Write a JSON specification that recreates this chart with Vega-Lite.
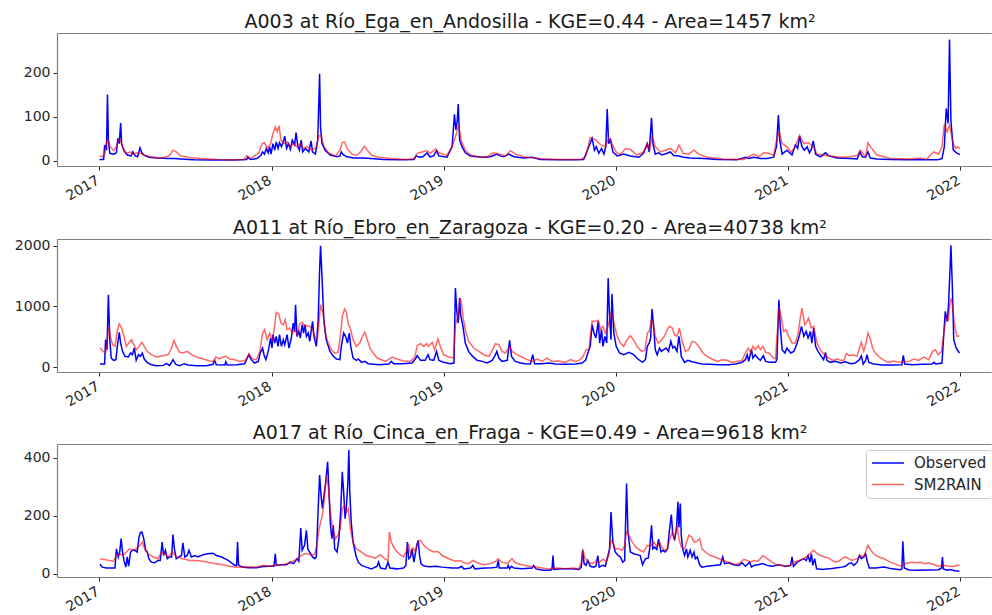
{
"$schema": "https://vega.github.io/schema/vega-lite/v6.json",
"background": "white",
"padding": {"left": 14, "top": 13, "right": 0, "bottom": 0},
"spacing": 15,
"config": {
  "font": "DejaVu Sans",
  "view": {"stroke": null},
  "axis": {"grid": false, "title": null, "labelFont": "DejaVu Sans", "labelFontSize": 14, "labelColor": "#262626", "tickColor": "#262626", "tickSize": 4, "labelPadding": 3, "domainColor": "#808080", "domainWidth": 1.2, "labelOverlap": false},
  "title": {"fontSize": 19, "fontWeight": "normal", "color": "#1a1a1a", "font": "DejaVu Sans", "offset": 1, "frame": "group", "anchor": "middle", "dx": 6},
  "line": {"strokeWidth": 1.5, "clip": true}
},
"resolve": {"scale": {"color": "independent", "x": "independent", "y": "independent"}, "legend": {"color": "independent"}},
"vconcat": [
{
  "title": "A003 at Río_Ega_en_Andosilla - KGE=0.44 - Area=1457 km²",
  "width": 934, "height": 133,
  "resolve": {"axis": {"x": "independent"}},
  "layer": [
    {"data": {"values": [
{"d":"2017-001","v":3},{"d":"2017-010","v":3},{"d":"2017-012","v":36},{"d":"2017-016","v":24},{"d":"2017-018","v":151},{"d":"2017-020","v":47},{"d":"2017-023","v":17},{"d":"2017-031","v":15},{"d":"2017-037","v":18},{"d":"2017-040","v":51},{"d":"2017-043","v":39},{"d":"2017-046","v":86},{"d":"2017-048","v":39},{"d":"2017-053","v":23},{"d":"2017-060","v":13},{"d":"2017-068","v":11},{"d":"2017-072","v":20},{"d":"2017-077","v":11},{"d":"2017-082","v":9},{"d":"2017-087","v":29},{"d":"2017-091","v":18},{"d":"2017-096","v":12},{"d":"2017-106","v":8},{"d":"2017-123","v":6},{"d":"2017-145","v":5},{"d":"2017-159","v":5},{"d":"2017-173","v":4},{"d":"2017-201","v":2},{"d":"2017-244","v":1.5},{"d":"2017-286","v":1.5},{"d":"2017-313","v":3},{"d":"2017-316","v":8},{"d":"2017-321","v":3},{"d":"2017-335","v":5},{"d":"2017-344","v":13},{"d":"2017-347","v":20},{"d":"2017-351","v":15},{"d":"2017-355","v":28},{"d":"2017-359","v":18},{"d":"2017-362","v":32},{"d":"2017-365","v":15},
{"d":"2018-004","v":39},{"d":"2018-008","v":24},{"d":"2018-011","v":43},{"d":"2018-015","v":28},{"d":"2018-018","v":41},{"d":"2018-022","v":32},{"d":"2018-026","v":43},{"d":"2018-029","v":56},{"d":"2018-033","v":28},{"d":"2018-037","v":39},{"d":"2018-041","v":26},{"d":"2018-045","v":47},{"d":"2018-050","v":36},{"d":"2018-053","v":64},{"d":"2018-057","v":32},{"d":"2018-060","v":24},{"d":"2018-064","v":47},{"d":"2018-067","v":20},{"d":"2018-073","v":28},{"d":"2018-080","v":20},{"d":"2018-085","v":45},{"d":"2018-088","v":20},{"d":"2018-094","v":15},{"d":"2018-099","v":47},{"d":"2018-103","v":198},{"d":"2018-105","v":77},{"d":"2018-108","v":39},{"d":"2018-115","v":23},{"d":"2018-126","v":13},{"d":"2018-140","v":9},{"d":"2018-146","v":11},{"d":"2018-149","v":20},{"d":"2018-153","v":14},{"d":"2018-161","v":9},{"d":"2018-175","v":6},{"d":"2018-197","v":6},{"d":"2018-211","v":5},{"d":"2018-239","v":3},{"d":"2018-274","v":2},{"d":"2018-303","v":3},{"d":"2018-308","v":11},{"d":"2018-315","v":8},{"d":"2018-322","v":9},{"d":"2018-331","v":18},{"d":"2018-337","v":9},{"d":"2018-345","v":11},{"d":"2018-351","v":23},{"d":"2018-356","v":11},
{"d":"2019-008","v":8},{"d":"2019-019","v":32},{"d":"2019-024","v":106},{"d":"2019-027","v":70},{"d":"2019-030","v":92},{"d":"2019-032","v":129},{"d":"2019-035","v":47},{"d":"2019-040","v":32},{"d":"2019-047","v":18},{"d":"2019-058","v":11},{"d":"2019-072","v":9},{"d":"2019-086","v":8},{"d":"2019-100","v":9},{"d":"2019-107","v":12},{"d":"2019-114","v":15},{"d":"2019-121","v":11},{"d":"2019-129","v":9},{"d":"2019-139","v":15},{"d":"2019-150","v":9},{"d":"2019-171","v":6},{"d":"2019-189","v":8},{"d":"2019-206","v":3},{"d":"2019-242","v":2},{"d":"2019-277","v":2},{"d":"2019-298","v":3},{"d":"2019-309","v":32},{"d":"2019-316","v":51},{"d":"2019-321","v":24},{"d":"2019-325","v":32},{"d":"2019-330","v":17},{"d":"2019-336","v":28},{"d":"2019-341","v":15},{"d":"2019-345","v":32},{"d":"2019-348","v":118},{"d":"2019-351","v":39},{"d":"2019-355","v":48},{"d":"2019-360","v":20},
{"d":"2020-004","v":11},{"d":"2020-018","v":15},{"d":"2020-032","v":11},{"d":"2020-050","v":8},{"d":"2020-060","v":17},{"d":"2020-068","v":39},{"d":"2020-072","v":20},{"d":"2020-077","v":98},{"d":"2020-080","v":39},{"d":"2020-085","v":15},{"d":"2020-092","v":18},{"d":"2020-099","v":13},{"d":"2020-110","v":17},{"d":"2020-117","v":20},{"d":"2020-124","v":12},{"d":"2020-135","v":11},{"d":"2020-145","v":8},{"d":"2020-159","v":6},{"d":"2020-188","v":5},{"d":"2020-216","v":3},{"d":"2020-258","v":2},{"d":"2020-276","v":8},{"d":"2020-283","v":5},{"d":"2020-294","v":8},{"d":"2020-308","v":5},{"d":"2020-322","v":5},{"d":"2020-336","v":8},{"d":"2020-342","v":32},{"d":"2020-346","v":104},{"d":"2020-349","v":47},{"d":"2020-354","v":15},{"d":"2020-364","v":24},
{"d":"2021-009","v":13},{"d":"2021-016","v":36},{"d":"2021-021","v":28},{"d":"2021-025","v":56},{"d":"2021-030","v":32},{"d":"2021-035","v":24},{"d":"2021-041","v":32},{"d":"2021-046","v":18},{"d":"2021-050","v":26},{"d":"2021-054","v":45},{"d":"2021-059","v":15},{"d":"2021-069","v":9},{"d":"2021-080","v":18},{"d":"2021-087","v":11},{"d":"2021-105","v":6},{"d":"2021-133","v":5},{"d":"2021-147","v":4},{"d":"2021-153","v":20},{"d":"2021-158","v":9},{"d":"2021-165","v":8},{"d":"2021-170","v":20},{"d":"2021-175","v":6},{"d":"2021-189","v":4},{"d":"2021-218","v":3},{"d":"2021-253","v":2},{"d":"2021-288","v":2},{"d":"2021-317","v":2},{"d":"2021-327","v":5},{"d":"2021-332","v":32},{"d":"2021-336","v":119},{"d":"2021-340","v":85},{"d":"2021-343","v":276},{"d":"2021-346","v":92},{"d":"2021-351","v":24},{"d":"2021-358","v":18},{"d":"2021-365","v":14}
    ], "format": {"parse": {"d": "date:'%Y-%j'"}}},
    "mark": {"type": "line"},
    "encoding": {
      "x": {"field": "d", "type": "temporal", "scale": {"domain": [{"year": 2016, "month": "oct", "date": 3}, {"year": 2022, "month": "mar", "date": 7}]},
        "axis": {"values": [{"year": 2017, "month": "jan", "date": 1}, {"year": 2018, "month": "jan", "date": 1}, {"year": 2019, "month": "jan", "date": 1}, {"year": 2020, "month": "jan", "date": 1}, {"year": 2021, "month": "jan", "date": 1}, {"year": 2022, "month": "jan", "date": 1}], "format": "%Y", "labelAngle": -30, "labelAlign": "right", "labelBaseline": "top", "labelFlush": false, "labelOffset": -5}},
      "y": {"field": "v", "type": "quantitative", "scale": {"domain": [-12, 291], "nice": false, "zero": false}, "axis": {"values": [0, 100, 200], "format": "d"}},
      "color": {"datum": "Observed", "type": "nominal", "scale": {"domain": ["Observed", "SM2RAIN"], "range": ["#0000ff", "rgba(255,0,0,0.6)"]}, "legend": null}
    }},
    {"data": {"values": [
{"d":"2017-001","v":11},{"d":"2017-007","v":9},{"d":"2017-012","v":15},{"d":"2017-016","v":43},{"d":"2017-019","v":48},{"d":"2017-024","v":32},{"d":"2017-031","v":23},{"d":"2017-037","v":32},{"d":"2017-042","v":48},{"d":"2017-047","v":43},{"d":"2017-051","v":28},{"d":"2017-058","v":17},{"d":"2017-067","v":20},{"d":"2017-072","v":15},{"d":"2017-081","v":18},{"d":"2017-088","v":17},{"d":"2017-096","v":13},{"d":"2017-109","v":9},{"d":"2017-130","v":6},{"d":"2017-145","v":9},{"d":"2017-152","v":15},{"d":"2017-157","v":24},{"d":"2017-164","v":20},{"d":"2017-173","v":11},{"d":"2017-183","v":9},{"d":"2017-194","v":7},{"d":"2017-215","v":5},{"d":"2017-251","v":3},{"d":"2017-286","v":2},{"d":"2017-307","v":3},{"d":"2017-314","v":12},{"d":"2017-321","v":5},{"d":"2017-332","v":13},{"d":"2017-339","v":17},{"d":"2017-346","v":39},{"d":"2017-351","v":41},{"d":"2017-357","v":28},{"d":"2017-364","v":39},
{"d":"2018-004","v":62},{"d":"2018-009","v":77},{"d":"2018-013","v":66},{"d":"2018-017","v":80},{"d":"2018-021","v":47},{"d":"2018-027","v":39},{"d":"2018-034","v":43},{"d":"2018-041","v":32},{"d":"2018-048","v":39},{"d":"2018-055","v":32},{"d":"2018-062","v":39},{"d":"2018-069","v":28},{"d":"2018-076","v":32},{"d":"2018-087","v":23},{"d":"2018-096","v":32},{"d":"2018-101","v":56},{"d":"2018-106","v":58},{"d":"2018-112","v":33},{"d":"2018-122","v":18},{"d":"2018-137","v":11},{"d":"2018-146","v":24},{"d":"2018-151","v":41},{"d":"2018-156","v":43},{"d":"2018-161","v":28},{"d":"2018-172","v":15},{"d":"2018-181","v":12},{"d":"2018-190","v":20},{"d":"2018-198","v":33},{"d":"2018-204","v":24},{"d":"2018-214","v":12},{"d":"2018-228","v":8},{"d":"2018-253","v":5},{"d":"2018-289","v":3},{"d":"2018-303","v":5},{"d":"2018-310","v":17},{"d":"2018-320","v":20},{"d":"2018-330","v":23},{"d":"2018-338","v":17},{"d":"2018-349","v":27},{"d":"2018-356","v":18},
{"d":"2019-008","v":12},{"d":"2019-019","v":32},{"d":"2019-024","v":47},{"d":"2019-033","v":81},{"d":"2019-038","v":47},{"d":"2019-047","v":24},{"d":"2019-058","v":13},{"d":"2019-079","v":8},{"d":"2019-093","v":9},{"d":"2019-106","v":18},{"d":"2019-114","v":16},{"d":"2019-121","v":15},{"d":"2019-132","v":11},{"d":"2019-143","v":23},{"d":"2019-153","v":15},{"d":"2019-171","v":9},{"d":"2019-206","v":5},{"d":"2019-242","v":3},{"d":"2019-291","v":3},{"d":"2019-302","v":9},{"d":"2019-312","v":53},{"d":"2019-323","v":48},{"d":"2019-334","v":36},{"d":"2019-344","v":32},{"d":"2019-351","v":51},{"d":"2019-358","v":39},
{"d":"2020-003","v":18},{"d":"2020-011","v":15},{"d":"2020-022","v":28},{"d":"2020-032","v":26},{"d":"2020-046","v":13},{"d":"2020-060","v":20},{"d":"2020-068","v":39},{"d":"2020-073","v":24},{"d":"2020-078","v":56},{"d":"2020-085","v":32},{"d":"2020-096","v":20},{"d":"2020-106","v":24},{"d":"2020-117","v":28},{"d":"2020-128","v":18},{"d":"2020-135","v":36},{"d":"2020-144","v":17},{"d":"2020-156","v":15},{"d":"2020-167","v":24},{"d":"2020-177","v":15},{"d":"2020-195","v":8},{"d":"2020-230","v":4},{"d":"2020-273","v":3},{"d":"2020-283","v":9},{"d":"2020-294","v":15},{"d":"2020-304","v":9},{"d":"2020-315","v":18},{"d":"2020-326","v":17},{"d":"2020-336","v":12},{"d":"2020-342","v":47},{"d":"2020-348","v":66},{"d":"2020-354","v":39},{"d":"2020-364","v":32},
{"d":"2021-007","v":20},{"d":"2021-016","v":32},{"d":"2021-025","v":58},{"d":"2021-034","v":39},{"d":"2021-044","v":41},{"d":"2021-054","v":32},{"d":"2021-062","v":15},{"d":"2021-076","v":13},{"d":"2021-090","v":11},{"d":"2021-112","v":8},{"d":"2021-133","v":9},{"d":"2021-147","v":12},{"d":"2021-154","v":24},{"d":"2021-160","v":15},{"d":"2021-165","v":9},{"d":"2021-170","v":41},{"d":"2021-175","v":32},{"d":"2021-189","v":13},{"d":"2021-218","v":5},{"d":"2021-260","v":4},{"d":"2021-281","v":6},{"d":"2021-295","v":3},{"d":"2021-302","v":13},{"d":"2021-310","v":20},{"d":"2021-320","v":15},{"d":"2021-327","v":32},{"d":"2021-332","v":83},{"d":"2021-338","v":66},{"d":"2021-343","v":81},{"d":"2021-351","v":39},{"d":"2021-356","v":28},{"d":"2021-360","v":32},{"d":"2021-365","v":28}
    ], "format": {"parse": {"d": "date:'%Y-%j'"}}},
    "mark": {"type": "line"},
    "encoding": {
      "x": {"field": "d", "type": "temporal", "axis": {"orient": "top", "labels": false, "ticks": false}},
      "y": {"field": "v", "type": "quantitative"},
      "color": {"datum": "SM2RAIN", "type": "nominal"}
    }}
  ]
},
{
  "title": "A011 at Río_Ebro_en_Zaragoza - KGE=0.20 - Area=40738 km²",
  "width": 934, "height": 133,
  "resolve": {"axis": {"x": "independent"}},
  "layer": [
    {"data": {"values": [
{"d":"2017-002","v":49},{"d":"2017-012","v":49},{"d":"2017-014","v":450},{"d":"2017-017","v":285},{"d":"2017-020","v":1191},{"d":"2017-023","v":450},{"d":"2017-026","v":148},{"d":"2017-031","v":110},{"d":"2017-036","v":121},{"d":"2017-039","v":340},{"d":"2017-043","v":571},{"d":"2017-046","v":395},{"d":"2017-050","v":258},{"d":"2017-055","v":176},{"d":"2017-062","v":165},{"d":"2017-067","v":231},{"d":"2017-071","v":203},{"d":"2017-075","v":313},{"d":"2017-079","v":110},{"d":"2017-084","v":203},{"d":"2017-088","v":176},{"d":"2017-092","v":231},{"d":"2017-096","v":132},{"d":"2017-102","v":77},{"d":"2017-111","v":38},{"d":"2017-122","v":22},{"d":"2017-136","v":27},{"d":"2017-143","v":55},{"d":"2017-150","v":27},{"d":"2017-157","v":121},{"d":"2017-163","v":44},{"d":"2017-171","v":22},{"d":"2017-181","v":55},{"d":"2017-189","v":33},{"d":"2017-207","v":22},{"d":"2017-228","v":22},{"d":"2017-242","v":44},{"d":"2017-245","v":110},{"d":"2017-249","v":38},{"d":"2017-267","v":33},{"d":"2017-269","v":88},{"d":"2017-272","v":33},{"d":"2017-292","v":38},{"d":"2017-309","v":55},{"d":"2017-318","v":203},{"d":"2017-323","v":121},{"d":"2017-330","v":66},{"d":"2017-338","v":93},{"d":"2017-342","v":231},{"d":"2017-347","v":313},{"d":"2017-350","v":203},{"d":"2017-354","v":121},{"d":"2017-359","v":258},{"d":"2017-364","v":478},
{"d":"2018-002","v":313},{"d":"2018-004","v":533},{"d":"2018-008","v":395},{"d":"2018-011","v":505},{"d":"2018-015","v":340},{"d":"2018-018","v":533},{"d":"2018-022","v":340},{"d":"2018-026","v":450},{"d":"2018-029","v":368},{"d":"2018-034","v":533},{"d":"2018-038","v":313},{"d":"2018-043","v":478},{"d":"2018-047","v":725},{"d":"2018-050","v":587},{"d":"2018-052","v":1027},{"d":"2018-055","v":505},{"d":"2018-059","v":587},{"d":"2018-062","v":478},{"d":"2018-066","v":697},{"d":"2018-069","v":560},{"d":"2018-072","v":697},{"d":"2018-075","v":505},{"d":"2018-079","v":560},{"d":"2018-082","v":423},{"d":"2018-088","v":752},{"d":"2018-091","v":505},{"d":"2018-096","v":340},{"d":"2018-100","v":780},{"d":"2018-103","v":1603},{"d":"2018-105","v":1998},{"d":"2018-108","v":1493},{"d":"2018-112","v":780},{"d":"2018-117","v":450},{"d":"2018-125","v":258},{"d":"2018-132","v":176},{"d":"2018-139","v":132},{"d":"2018-146","v":121},{"d":"2018-149","v":340},{"d":"2018-154","v":560},{"d":"2018-158","v":505},{"d":"2018-162","v":395},{"d":"2018-166","v":560},{"d":"2018-169","v":340},{"d":"2018-174","v":148},{"d":"2018-181","v":110},{"d":"2018-185","v":132},{"d":"2018-192","v":77},{"d":"2018-199","v":93},{"d":"2018-206","v":55},{"d":"2018-213","v":49},{"d":"2018-228","v":38},{"d":"2018-250","v":49},{"d":"2018-255","v":93},{"d":"2018-260","v":55},{"d":"2018-278","v":55},{"d":"2018-299","v":66},{"d":"2018-306","v":132},{"d":"2018-310","v":187},{"d":"2018-317","v":110},{"d":"2018-327","v":110},{"d":"2018-333","v":203},{"d":"2018-337","v":121},{"d":"2018-345","v":110},{"d":"2018-351","v":258},{"d":"2018-356","v":110},
{"d":"2019-001","v":77},{"d":"2019-015","v":55},{"d":"2019-023","v":66},{"d":"2019-026","v":1301},{"d":"2019-029","v":917},{"d":"2019-032","v":725},{"d":"2019-035","v":1136},{"d":"2019-037","v":862},{"d":"2019-042","v":670},{"d":"2019-047","v":395},{"d":"2019-054","v":258},{"d":"2019-061","v":187},{"d":"2019-072","v":110},{"d":"2019-083","v":93},{"d":"2019-093","v":66},{"d":"2019-104","v":110},{"d":"2019-109","v":176},{"d":"2019-114","v":258},{"d":"2019-118","v":148},{"d":"2019-125","v":93},{"d":"2019-136","v":110},{"d":"2019-141","v":439},{"d":"2019-145","v":176},{"d":"2019-153","v":93},{"d":"2019-164","v":66},{"d":"2019-174","v":55},{"d":"2019-185","v":49},{"d":"2019-190","v":203},{"d":"2019-194","v":55},{"d":"2019-210","v":55},{"d":"2019-224","v":66},{"d":"2019-238","v":49},{"d":"2019-259","v":44},{"d":"2019-281","v":49},{"d":"2019-295","v":66},{"d":"2019-302","v":110},{"d":"2019-307","v":231},{"d":"2019-312","v":340},{"d":"2019-316","v":697},{"d":"2019-320","v":560},{"d":"2019-324","v":478},{"d":"2019-329","v":752},{"d":"2019-332","v":395},{"d":"2019-336","v":615},{"d":"2019-339","v":340},{"d":"2019-343","v":505},{"d":"2019-347","v":395},{"d":"2019-350","v":1466},{"d":"2019-353","v":834},{"d":"2019-356","v":450},{"d":"2019-358","v":1208},{"d":"2019-362","v":560},
{"d":"2020-002","v":340},{"d":"2020-009","v":231},{"d":"2020-018","v":203},{"d":"2020-029","v":242},{"d":"2020-039","v":203},{"d":"2020-048","v":132},{"d":"2020-058","v":77},{"d":"2020-064","v":121},{"d":"2020-068","v":340},{"d":"2020-072","v":395},{"d":"2020-075","v":478},{"d":"2020-078","v":955},{"d":"2020-082","v":615},{"d":"2020-085","v":285},{"d":"2020-089","v":203},{"d":"2020-094","v":313},{"d":"2020-098","v":258},{"d":"2020-103","v":285},{"d":"2020-108","v":313},{"d":"2020-113","v":258},{"d":"2020-118","v":423},{"d":"2020-122","v":313},{"d":"2020-126","v":340},{"d":"2020-131","v":258},{"d":"2020-135","v":505},{"d":"2020-138","v":340},{"d":"2020-140","v":176},{"d":"2020-147","v":77},{"d":"2020-154","v":110},{"d":"2020-163","v":88},{"d":"2020-174","v":66},{"d":"2020-184","v":49},{"d":"2020-198","v":44},{"d":"2020-220","v":38},{"d":"2020-241","v":38},{"d":"2020-255","v":49},{"d":"2020-269","v":77},{"d":"2020-276","v":121},{"d":"2020-280","v":203},{"d":"2020-283","v":93},{"d":"2020-289","v":285},{"d":"2020-292","v":148},{"d":"2020-297","v":203},{"d":"2020-302","v":148},{"d":"2020-308","v":110},{"d":"2020-314","v":187},{"d":"2020-319","v":93},{"d":"2020-329","v":77},{"d":"2020-340","v":77},{"d":"2020-343","v":121},{"d":"2020-347","v":1109},{"d":"2020-350","v":670},{"d":"2020-354","v":285},{"d":"2020-360","v":231},{"d":"2020-364","v":313},
{"d":"2021-006","v":231},{"d":"2021-013","v":258},{"d":"2021-020","v":395},{"d":"2021-025","v":533},{"d":"2021-029","v":670},{"d":"2021-034","v":505},{"d":"2021-039","v":587},{"d":"2021-043","v":478},{"d":"2021-048","v":587},{"d":"2021-051","v":395},{"d":"2021-055","v":642},{"d":"2021-059","v":340},{"d":"2021-064","v":258},{"d":"2021-071","v":176},{"d":"2021-076","v":121},{"d":"2021-080","v":242},{"d":"2021-083","v":110},{"d":"2021-090","v":77},{"d":"2021-101","v":93},{"d":"2021-112","v":66},{"d":"2021-122","v":88},{"d":"2021-133","v":55},{"d":"2021-143","v":66},{"d":"2021-152","v":121},{"d":"2021-156","v":187},{"d":"2021-160","v":49},{"d":"2021-165","v":110},{"d":"2021-168","v":203},{"d":"2021-172","v":77},{"d":"2021-182","v":49},{"d":"2021-200","v":33},{"d":"2021-221","v":33},{"d":"2021-242","v":38},{"d":"2021-245","v":192},{"d":"2021-248","v":49},{"d":"2021-264","v":38},{"d":"2021-285","v":44},{"d":"2021-306","v":49},{"d":"2021-310","v":77},{"d":"2021-314","v":49},{"d":"2021-327","v":66},{"d":"2021-331","v":560},{"d":"2021-334","v":917},{"d":"2021-338","v":752},{"d":"2021-341","v":1027},{"d":"2021-344","v":1603},{"d":"2021-346","v":2004},{"d":"2021-349","v":1329},{"d":"2021-352","v":450},{"d":"2021-357","v":313},{"d":"2021-364","v":231}
    ], "format": {"parse": {"d": "date:'%Y-%j'"}}},
    "mark": {"type": "line"},
    "encoding": {
      "x": {"field": "d", "type": "temporal", "scale": {"domain": [{"year": 2016, "month": "oct", "date": 3}, {"year": 2022, "month": "mar", "date": 7}]},
        "axis": {"values": [{"year": 2017, "month": "jan", "date": 1}, {"year": 2018, "month": "jan", "date": 1}, {"year": 2019, "month": "jan", "date": 1}, {"year": 2020, "month": "jan", "date": 1}, {"year": 2021, "month": "jan", "date": 1}, {"year": 2022, "month": "jan", "date": 1}], "format": "%Y", "labelAngle": -30, "labelAlign": "right", "labelBaseline": "top", "labelFlush": false, "labelOffset": -5}},
      "y": {"field": "v", "type": "quantitative", "scale": {"domain": [-82, 2109], "nice": false, "zero": false}, "axis": {"values": [0, 1000, 2000], "format": "d"}},
      "color": {"datum": "Observed", "type": "nominal", "scale": {"domain": ["Observed", "SM2RAIN"], "range": ["#0000ff", "rgba(255,0,0,0.6)"]}, "legend": null}
    }},
    {"data": {"values": [
{"d":"2017-002","v":313},{"d":"2017-009","v":258},{"d":"2017-014","v":231},{"d":"2017-017","v":395},{"d":"2017-021","v":670},{"d":"2017-024","v":505},{"d":"2017-029","v":368},{"d":"2017-034","v":340},{"d":"2017-038","v":560},{"d":"2017-043","v":714},{"d":"2017-048","v":642},{"d":"2017-053","v":505},{"d":"2017-058","v":340},{"d":"2017-064","v":406},{"d":"2017-069","v":450},{"d":"2017-074","v":368},{"d":"2017-079","v":285},{"d":"2017-085","v":340},{"d":"2017-091","v":406},{"d":"2017-096","v":340},{"d":"2017-102","v":258},{"d":"2017-111","v":203},{"d":"2017-122","v":165},{"d":"2017-136","v":187},{"d":"2017-147","v":203},{"d":"2017-154","v":313},{"d":"2017-159","v":439},{"d":"2017-164","v":340},{"d":"2017-171","v":242},{"d":"2017-178","v":231},{"d":"2017-187","v":258},{"d":"2017-196","v":203},{"d":"2017-207","v":165},{"d":"2017-221","v":132},{"d":"2017-235","v":99},{"d":"2017-244","v":93},{"d":"2017-248","v":165},{"d":"2017-256","v":132},{"d":"2017-263","v":165},{"d":"2017-270","v":176},{"d":"2017-277","v":132},{"d":"2017-288","v":121},{"d":"2017-299","v":93},{"d":"2017-311","v":110},{"d":"2017-318","v":220},{"d":"2017-326","v":132},{"d":"2017-334","v":121},{"d":"2017-341","v":258},{"d":"2017-347","v":560},{"d":"2017-351","v":615},{"d":"2017-357","v":450},{"d":"2017-362","v":560},
{"d":"2018-003","v":423},{"d":"2018-008","v":697},{"d":"2018-011","v":900},{"d":"2018-016","v":878},{"d":"2018-021","v":725},{"d":"2018-026","v":697},{"d":"2018-030","v":780},{"d":"2018-034","v":615},{"d":"2018-040","v":642},{"d":"2018-045","v":560},{"d":"2018-051","v":615},{"d":"2018-055","v":533},{"d":"2018-061","v":714},{"d":"2018-067","v":736},{"d":"2018-071","v":670},{"d":"2018-076","v":681},{"d":"2018-082","v":670},{"d":"2018-088","v":615},{"d":"2018-093","v":505},{"d":"2018-098","v":450},{"d":"2018-101","v":670},{"d":"2018-105","v":1027},{"d":"2018-110","v":889},{"d":"2018-115","v":560},{"d":"2018-121","v":395},{"d":"2018-128","v":285},{"d":"2018-135","v":231},{"d":"2018-142","v":242},{"d":"2018-147","v":505},{"d":"2018-151","v":834},{"d":"2018-156","v":955},{"d":"2018-160","v":900},{"d":"2018-164","v":697},{"d":"2018-168","v":642},{"d":"2018-174","v":450},{"d":"2018-181","v":340},{"d":"2018-188","v":395},{"d":"2018-194","v":505},{"d":"2018-199","v":571},{"d":"2018-204","v":450},{"d":"2018-211","v":290},{"d":"2018-225","v":148},{"d":"2018-243","v":93},{"d":"2018-257","v":165},{"d":"2018-267","v":132},{"d":"2018-281","v":99},{"d":"2018-296","v":93},{"d":"2018-305","v":165},{"d":"2018-310","v":351},{"d":"2018-317","v":384},{"d":"2018-324","v":340},{"d":"2018-330","v":384},{"d":"2018-334","v":340},{"d":"2018-342","v":406},{"d":"2018-347","v":285},{"d":"2018-354","v":461},{"d":"2018-359","v":340},
{"d":"2019-001","v":203},{"d":"2019-012","v":165},{"d":"2019-022","v":148},{"d":"2019-026","v":697},{"d":"2019-030","v":807},{"d":"2019-033","v":889},{"d":"2019-036","v":1136},{"d":"2019-039","v":1054},{"d":"2019-042","v":834},{"d":"2019-047","v":615},{"d":"2019-054","v":423},{"d":"2019-065","v":313},{"d":"2019-076","v":258},{"d":"2019-086","v":203},{"d":"2019-097","v":176},{"d":"2019-105","v":285},{"d":"2019-111","v":384},{"d":"2019-118","v":368},{"d":"2019-125","v":258},{"d":"2019-132","v":231},{"d":"2019-141","v":340},{"d":"2019-146","v":258},{"d":"2019-157","v":203},{"d":"2019-167","v":165},{"d":"2019-178","v":121},{"d":"2019-189","v":93},{"d":"2019-199","v":132},{"d":"2019-210","v":93},{"d":"2019-220","v":148},{"d":"2019-231","v":93},{"d":"2019-245","v":99},{"d":"2019-259","v":77},{"d":"2019-270","v":121},{"d":"2019-281","v":93},{"d":"2019-291","v":121},{"d":"2019-297","v":176},{"d":"2019-303","v":285},{"d":"2019-309","v":285},{"d":"2019-312","v":505},{"d":"2019-316","v":752},{"d":"2019-323","v":752},{"d":"2019-329","v":769},{"d":"2019-334","v":615},{"d":"2019-339","v":670},{"d":"2019-344","v":560},{"d":"2019-350","v":670},{"d":"2019-355","v":889},{"d":"2019-360","v":834},{"d":"2019-364","v":670},
{"d":"2020-004","v":505},{"d":"2020-011","v":395},{"d":"2020-018","v":340},{"d":"2020-025","v":450},{"d":"2020-032","v":516},{"d":"2020-039","v":450},{"d":"2020-046","v":340},{"d":"2020-056","v":258},{"d":"2020-063","v":274},{"d":"2020-068","v":560},{"d":"2020-072","v":587},{"d":"2020-077","v":780},{"d":"2020-081","v":714},{"d":"2020-085","v":505},{"d":"2020-091","v":395},{"d":"2020-096","v":423},{"d":"2020-101","v":478},{"d":"2020-105","v":516},{"d":"2020-110","v":615},{"d":"2020-115","v":670},{"d":"2020-121","v":642},{"d":"2020-126","v":533},{"d":"2020-131","v":505},{"d":"2020-136","v":642},{"d":"2020-143","v":395},{"d":"2020-149","v":258},{"d":"2020-156","v":285},{"d":"2020-163","v":423},{"d":"2020-170","v":406},{"d":"2020-177","v":340},{"d":"2020-186","v":231},{"d":"2020-195","v":176},{"d":"2020-205","v":132},{"d":"2020-216","v":93},{"d":"2020-227","v":121},{"d":"2020-237","v":110},{"d":"2020-248","v":77},{"d":"2020-258","v":93},{"d":"2020-269","v":110},{"d":"2020-276","v":231},{"d":"2020-282","v":313},{"d":"2020-287","v":242},{"d":"2020-292","v":340},{"d":"2020-297","v":285},{"d":"2020-303","v":351},{"d":"2020-308","v":285},{"d":"2020-313","v":340},{"d":"2020-319","v":242},{"d":"2020-326","v":231},{"d":"2020-333","v":165},{"d":"2020-340","v":132},{"d":"2020-343","v":505},{"d":"2020-348","v":988},{"d":"2020-352","v":834},{"d":"2020-357","v":587},{"d":"2020-362","v":615},
{"d":"2021-002","v":505},{"d":"2021-009","v":395},{"d":"2021-016","v":395},{"d":"2021-022","v":560},{"d":"2021-027","v":834},{"d":"2021-030","v":972},{"d":"2021-036","v":697},{"d":"2021-041","v":752},{"d":"2021-044","v":807},{"d":"2021-050","v":642},{"d":"2021-055","v":670},{"d":"2021-062","v":395},{"d":"2021-069","v":285},{"d":"2021-078","v":203},{"d":"2021-087","v":148},{"d":"2021-095","v":110},{"d":"2021-105","v":132},{"d":"2021-112","v":110},{"d":"2021-119","v":110},{"d":"2021-124","v":220},{"d":"2021-131","v":187},{"d":"2021-138","v":203},{"d":"2021-147","v":176},{"d":"2021-152","v":313},{"d":"2021-156","v":406},{"d":"2021-161","v":258},{"d":"2021-166","v":395},{"d":"2021-170","v":560},{"d":"2021-175","v":461},{"d":"2021-180","v":313},{"d":"2021-186","v":231},{"d":"2021-194","v":165},{"d":"2021-204","v":110},{"d":"2021-214","v":77},{"d":"2021-225","v":99},{"d":"2021-235","v":77},{"d":"2021-246","v":88},{"d":"2021-257","v":93},{"d":"2021-267","v":132},{"d":"2021-278","v":110},{"d":"2021-288","v":165},{"d":"2021-299","v":121},{"d":"2021-307","v":258},{"d":"2021-313","v":285},{"d":"2021-319","v":203},{"d":"2021-326","v":258},{"d":"2021-331","v":560},{"d":"2021-336","v":834},{"d":"2021-340","v":752},{"d":"2021-344","v":1054},{"d":"2021-347","v":1136},{"d":"2021-351","v":889},{"d":"2021-354","v":670},{"d":"2021-359","v":505},{"d":"2021-364","v":516}
    ], "format": {"parse": {"d": "date:'%Y-%j'"}}},
    "mark": {"type": "line"},
    "encoding": {
      "x": {"field": "d", "type": "temporal", "axis": {"orient": "top", "labels": false, "ticks": false}},
      "y": {"field": "v", "type": "quantitative"},
      "color": {"datum": "SM2RAIN", "type": "nominal"}
    }}
  ]
},
{
  "title": "A017 at Río_Cinca_en_Fraga - KGE=0.49 - Area=9618 km²",
  "width": 934, "height": 133,
  "resolve": {"axis": {"x": "independent"}},
  "layer": [
    {"data": {"values": [
{"d":"2017-002","v":33},{"d":"2017-007","v":23},{"d":"2017-016","v":20},{"d":"2017-034","v":20},{"d":"2017-037","v":86},{"d":"2017-041","v":58},{"d":"2017-044","v":75},{"d":"2017-047","v":121},{"d":"2017-050","v":75},{"d":"2017-053","v":46},{"d":"2017-057","v":23},{"d":"2017-060","v":58},{"d":"2017-063","v":26},{"d":"2017-067","v":75},{"d":"2017-071","v":81},{"d":"2017-076","v":81},{"d":"2017-081","v":75},{"d":"2017-085","v":127},{"d":"2017-088","v":142},{"d":"2017-091","v":144},{"d":"2017-095","v":121},{"d":"2017-099","v":81},{"d":"2017-102","v":77},{"d":"2017-106","v":52},{"d":"2017-111","v":40},{"d":"2017-118","v":38},{"d":"2017-125","v":46},{"d":"2017-130","v":46},{"d":"2017-134","v":109},{"d":"2017-137","v":63},{"d":"2017-141","v":81},{"d":"2017-145","v":52},{"d":"2017-150","v":58},{"d":"2017-154","v":58},{"d":"2017-157","v":135},{"d":"2017-160","v":86},{"d":"2017-164","v":52},{"d":"2017-170","v":58},{"d":"2017-175","v":63},{"d":"2017-178","v":107},{"d":"2017-182","v":58},{"d":"2017-187","v":63},{"d":"2017-191","v":81},{"d":"2017-196","v":58},{"d":"2017-203","v":63},{"d":"2017-210","v":58},{"d":"2017-221","v":66},{"d":"2017-231","v":69},{"d":"2017-242","v":71},{"d":"2017-249","v":63},{"d":"2017-260","v":58},{"d":"2017-267","v":52},{"d":"2017-274","v":46},{"d":"2017-281","v":38},{"d":"2017-288","v":29},{"d":"2017-292","v":29},{"d":"2017-294","v":109},{"d":"2017-296","v":31},{"d":"2017-302","v":24},{"d":"2017-316","v":21},{"d":"2017-334","v":21},{"d":"2017-348","v":25},{"d":"2017-362","v":26},
{"d":"2018-006","v":26},{"d":"2018-009","v":69},{"d":"2018-011","v":29},{"d":"2018-020","v":31},{"d":"2018-033","v":31},{"d":"2018-040","v":40},{"d":"2018-048","v":35},{"d":"2018-055","v":52},{"d":"2018-059","v":43},{"d":"2018-063","v":158},{"d":"2018-066","v":81},{"d":"2018-071","v":98},{"d":"2018-075","v":150},{"d":"2018-078","v":86},{"d":"2018-082","v":75},{"d":"2018-088","v":58},{"d":"2018-093","v":52},{"d":"2018-096","v":58},{"d":"2018-100","v":225},{"d":"2018-103","v":340},{"d":"2018-106","v":271},{"d":"2018-109","v":225},{"d":"2018-112","v":265},{"d":"2018-116","v":317},{"d":"2018-120","v":386},{"d":"2018-123","v":282},{"d":"2018-126","v":167},{"d":"2018-129","v":121},{"d":"2018-132","v":167},{"d":"2018-135","v":86},{"d":"2018-140","v":75},{"d":"2018-144","v":121},{"d":"2018-148","v":225},{"d":"2018-151","v":351},{"d":"2018-154","v":282},{"d":"2018-157","v":190},{"d":"2018-160","v":236},{"d":"2018-163","v":317},{"d":"2018-165","v":426},{"d":"2018-167","v":282},{"d":"2018-170","v":179},{"d":"2018-174","v":109},{"d":"2018-180","v":63},{"d":"2018-185","v":40},{"d":"2018-192","v":29},{"d":"2018-202","v":23},{"d":"2018-213","v":17},{"d":"2018-225","v":26},{"d":"2018-228","v":40},{"d":"2018-232","v":20},{"d":"2018-243","v":17},{"d":"2018-248","v":40},{"d":"2018-252","v":20},{"d":"2018-267","v":17},{"d":"2018-281","v":20},{"d":"2018-286","v":29},{"d":"2018-289","v":109},{"d":"2018-292","v":52},{"d":"2018-296","v":58},{"d":"2018-299","v":86},{"d":"2018-303","v":40},{"d":"2018-306","v":69},{"d":"2018-309","v":98},{"d":"2018-312","v":115},{"d":"2018-315","v":63},{"d":"2018-318","v":35},{"d":"2018-322","v":29},{"d":"2018-327","v":26},{"d":"2018-337","v":24},{"d":"2018-349","v":26},{"d":"2018-363","v":23},
{"d":"2019-019","v":20},{"d":"2019-033","v":20},{"d":"2019-039","v":26},{"d":"2019-044","v":17},{"d":"2019-058","v":20},{"d":"2019-063","v":29},{"d":"2019-067","v":17},{"d":"2019-090","v":20},{"d":"2019-104","v":21},{"d":"2019-114","v":23},{"d":"2019-117","v":46},{"d":"2019-119","v":20},{"d":"2019-136","v":20},{"d":"2019-138","v":29},{"d":"2019-141","v":17},{"d":"2019-145","v":26},{"d":"2019-150","v":20},{"d":"2019-167","v":17},{"d":"2019-189","v":20},{"d":"2019-192","v":29},{"d":"2019-197","v":17},{"d":"2019-213","v":12},{"d":"2019-228","v":12},{"d":"2019-231","v":17},{"d":"2019-233","v":63},{"d":"2019-235","v":15},{"d":"2019-252","v":17},{"d":"2019-273","v":17},{"d":"2019-288","v":15},{"d":"2019-293","v":23},{"d":"2019-296","v":81},{"d":"2019-299","v":35},{"d":"2019-303","v":29},{"d":"2019-307","v":46},{"d":"2019-312","v":26},{"d":"2019-319","v":23},{"d":"2019-324","v":26},{"d":"2019-328","v":63},{"d":"2019-331","v":23},{"d":"2019-339","v":29},{"d":"2019-344","v":26},{"d":"2019-348","v":52},{"d":"2019-353","v":86},{"d":"2019-356","v":213},{"d":"2019-360","v":109},{"d":"2019-365","v":75},
{"d":"2020-006","v":63},{"d":"2020-011","v":58},{"d":"2020-016","v":40},{"d":"2020-020","v":46},{"d":"2020-024","v":311},{"d":"2020-027","v":144},{"d":"2020-032","v":75},{"d":"2020-039","v":69},{"d":"2020-046","v":66},{"d":"2020-053","v":63},{"d":"2020-058","v":31},{"d":"2020-064","v":52},{"d":"2020-070","v":54},{"d":"2020-073","v":86},{"d":"2020-077","v":167},{"d":"2020-080","v":86},{"d":"2020-084","v":92},{"d":"2020-088","v":84},{"d":"2020-092","v":119},{"d":"2020-097","v":75},{"d":"2020-101","v":81},{"d":"2020-106","v":75},{"d":"2020-111","v":86},{"d":"2020-115","v":150},{"d":"2020-119","v":204},{"d":"2020-122","v":138},{"d":"2020-126","v":115},{"d":"2020-130","v":158},{"d":"2020-133","v":248},{"d":"2020-135","v":160},{"d":"2020-138","v":242},{"d":"2020-140","v":133},{"d":"2020-143","v":86},{"d":"2020-147","v":63},{"d":"2020-151","v":86},{"d":"2020-154","v":58},{"d":"2020-159","v":81},{"d":"2020-163","v":58},{"d":"2020-167","v":75},{"d":"2020-170","v":52},{"d":"2020-174","v":58},{"d":"2020-179","v":31},{"d":"2020-184","v":23},{"d":"2020-195","v":26},{"d":"2020-209","v":29},{"d":"2020-223","v":31},{"d":"2020-228","v":58},{"d":"2020-232","v":35},{"d":"2020-241","v":38},{"d":"2020-251","v":31},{"d":"2020-262","v":29},{"d":"2020-269","v":38},{"d":"2020-276","v":26},{"d":"2020-285","v":40},{"d":"2020-289","v":23},{"d":"2020-294","v":29},{"d":"2020-303","v":31},{"d":"2020-313","v":35},{"d":"2020-322","v":29},{"d":"2020-333","v":26},{"d":"2020-347","v":31},{"d":"2020-361","v":26},
{"d":"2021-006","v":29},{"d":"2021-009","v":58},{"d":"2021-012","v":26},{"d":"2021-020","v":40},{"d":"2021-027","v":46},{"d":"2021-034","v":52},{"d":"2021-039","v":46},{"d":"2021-043","v":63},{"d":"2021-047","v":40},{"d":"2021-050","v":69},{"d":"2021-053","v":29},{"d":"2021-057","v":52},{"d":"2021-061","v":17},{"d":"2021-073","v":15},{"d":"2021-087","v":17},{"d":"2021-101","v":20},{"d":"2021-115","v":23},{"d":"2021-122","v":26},{"d":"2021-129","v":35},{"d":"2021-135","v":38},{"d":"2021-140","v":29},{"d":"2021-147","v":40},{"d":"2021-152","v":63},{"d":"2021-156","v":52},{"d":"2021-161","v":58},{"d":"2021-165","v":69},{"d":"2021-169","v":40},{"d":"2021-173","v":20},{"d":"2021-186","v":20},{"d":"2021-204","v":23},{"d":"2021-221","v":17},{"d":"2021-239","v":14},{"d":"2021-242","v":17},{"d":"2021-244","v":112},{"d":"2021-247","v":20},{"d":"2021-257","v":13},{"d":"2021-278","v":12},{"d":"2021-299","v":13},{"d":"2021-320","v":14},{"d":"2021-326","v":20},{"d":"2021-328","v":58},{"d":"2021-330","v":17},{"d":"2021-338","v":12},{"d":"2021-345","v":15},{"d":"2021-356","v":10},{"d":"2021-364","v":10}
    ], "format": {"parse": {"d": "date:'%Y-%j'"}}},
    "mark": {"type": "line"},
    "encoding": {
      "x": {"field": "d", "type": "temporal", "scale": {"domain": [{"year": 2016, "month": "oct", "date": 3}, {"year": 2022, "month": "mar", "date": 7}]},
        "axis": {"values": [{"year": 2017, "month": "jan", "date": 1}, {"year": 2018, "month": "jan", "date": 1}, {"year": 2019, "month": "jan", "date": 1}, {"year": 2020, "month": "jan", "date": 1}, {"year": 2021, "month": "jan", "date": 1}, {"year": 2022, "month": "jan", "date": 1}], "format": "%Y", "labelAngle": -30, "labelAlign": "right", "labelBaseline": "top", "labelFlush": false, "labelOffset": -5}},
      "y": {"field": "v", "type": "quantitative", "scale": {"domain": [-11, 447], "nice": false, "zero": false}, "axis": {"values": [0, 200, 400], "format": "d"}},
      "color": {"datum": "Observed", "type": "nominal", "scale": {"domain": ["Observed", "SM2RAIN"], "range": ["#0000ff", "rgba(255,0,0,0.6)"]},
        "legend": {"orient": "none", "legendX": 809, "legendY": 6, "title": null, "symbolType": "stroke", "symbolSize": 1024, "symbolStrokeWidth": 1.5, "labelFontSize": 15, "labelColor": "#262626", "strokeColor": "#cccccc", "fillColor": "white", "padding": 5, "cornerRadius": 3, "clipHeight": 16, "rowPadding": 5.6, "labelOffset": 9}}
    }},
    {"data": {"values": [
{"d":"2017-002","v":52},{"d":"2017-016","v":48},{"d":"2017-030","v":43},{"d":"2017-037","v":63},{"d":"2017-044","v":69},{"d":"2017-051","v":63},{"d":"2017-058","v":75},{"d":"2017-065","v":86},{"d":"2017-072","v":81},{"d":"2017-079","v":86},{"d":"2017-087","v":98},{"d":"2017-092","v":109},{"d":"2017-097","v":86},{"d":"2017-104","v":69},{"d":"2017-115","v":58},{"d":"2017-125","v":52},{"d":"2017-133","v":75},{"d":"2017-140","v":69},{"d":"2017-147","v":58},{"d":"2017-156","v":75},{"d":"2017-164","v":58},{"d":"2017-178","v":52},{"d":"2017-193","v":46},{"d":"2017-207","v":46},{"d":"2017-221","v":43},{"d":"2017-235","v":38},{"d":"2017-249","v":35},{"d":"2017-263","v":31},{"d":"2017-277","v":26},{"d":"2017-292","v":23},{"d":"2017-306","v":23},{"d":"2017-320","v":24},{"d":"2017-334","v":23},{"d":"2017-348","v":29},{"d":"2017-362","v":26},
{"d":"2018-011","v":31},{"d":"2018-026","v":31},{"d":"2018-040","v":38},{"d":"2018-050","v":46},{"d":"2018-057","v":54},{"d":"2018-064","v":63},{"d":"2018-071","v":69},{"d":"2018-079","v":69},{"d":"2018-086","v":63},{"d":"2018-093","v":69},{"d":"2018-098","v":109},{"d":"2018-102","v":156},{"d":"2018-107","v":190},{"d":"2018-110","v":213},{"d":"2018-114","v":277},{"d":"2018-117","v":340},{"d":"2018-121","v":305},{"d":"2018-125","v":225},{"d":"2018-129","v":173},{"d":"2018-133","v":144},{"d":"2018-137","v":121},{"d":"2018-142","v":133},{"d":"2018-147","v":156},{"d":"2018-151","v":225},{"d":"2018-156","v":236},{"d":"2018-160","v":213},{"d":"2018-164","v":225},{"d":"2018-168","v":156},{"d":"2018-174","v":109},{"d":"2018-181","v":86},{"d":"2018-192","v":75},{"d":"2018-202","v":63},{"d":"2018-213","v":58},{"d":"2018-221","v":54},{"d":"2018-232","v":66},{"d":"2018-241","v":52},{"d":"2018-248","v":46},{"d":"2018-251","v":144},{"d":"2018-255","v":109},{"d":"2018-262","v":86},{"d":"2018-271","v":69},{"d":"2018-281","v":58},{"d":"2018-286","v":75},{"d":"2018-291","v":104},{"d":"2018-296","v":69},{"d":"2018-301","v":89},{"d":"2018-306","v":77},{"d":"2018-312","v":112},{"d":"2018-317","v":115},{"d":"2018-324","v":98},{"d":"2018-334","v":84},{"d":"2018-345","v":75},{"d":"2018-354","v":77},{"d":"2018-363","v":63},
{"d":"2019-012","v":52},{"d":"2019-026","v":43},{"d":"2019-037","v":46},{"d":"2019-044","v":38},{"d":"2019-054","v":35},{"d":"2019-063","v":46},{"d":"2019-072","v":38},{"d":"2019-086","v":31},{"d":"2019-100","v":35},{"d":"2019-111","v":43},{"d":"2019-117","v":52},{"d":"2019-125","v":40},{"d":"2019-136","v":35},{"d":"2019-146","v":52},{"d":"2019-153","v":38},{"d":"2019-167","v":31},{"d":"2019-182","v":26},{"d":"2019-196","v":24},{"d":"2019-210","v":20},{"d":"2019-224","v":17},{"d":"2019-242","v":20},{"d":"2019-259","v":17},{"d":"2019-277","v":20},{"d":"2019-288","v":17},{"d":"2019-293","v":40},{"d":"2019-296","v":86},{"d":"2019-300","v":58},{"d":"2019-307","v":40},{"d":"2019-316","v":35},{"d":"2019-323","v":43},{"d":"2019-330","v":38},{"d":"2019-339","v":50},{"d":"2019-346","v":43},{"d":"2019-351","v":63},{"d":"2019-356","v":115},{"d":"2019-360","v":109},{"d":"2019-365","v":86},
{"d":"2020-007","v":86},{"d":"2020-015","v":81},{"d":"2020-020","v":98},{"d":"2020-024","v":144},{"d":"2020-029","v":133},{"d":"2020-036","v":109},{"d":"2020-044","v":92},{"d":"2020-053","v":81},{"d":"2020-060","v":75},{"d":"2020-068","v":98},{"d":"2020-075","v":96},{"d":"2020-082","v":109},{"d":"2020-089","v":92},{"d":"2020-094","v":109},{"d":"2020-099","v":92},{"d":"2020-105","v":81},{"d":"2020-110","v":86},{"d":"2020-115","v":115},{"d":"2020-121","v":144},{"d":"2020-126","v":121},{"d":"2020-131","v":167},{"d":"2020-135","v":121},{"d":"2020-140","v":92},{"d":"2020-147","v":86},{"d":"2020-156","v":133},{"d":"2020-162","v":127},{"d":"2020-167","v":109},{"d":"2020-173","v":112},{"d":"2020-179","v":121},{"d":"2020-184","v":86},{"d":"2020-191","v":75},{"d":"2020-202","v":63},{"d":"2020-212","v":58},{"d":"2020-223","v":50},{"d":"2020-234","v":43},{"d":"2020-244","v":38},{"d":"2020-255","v":31},{"d":"2020-265","v":38},{"d":"2020-273","v":50},{"d":"2020-280","v":46},{"d":"2020-287","v":40},{"d":"2020-294","v":46},{"d":"2020-303","v":43},{"d":"2020-313","v":63},{"d":"2020-322","v":52},{"d":"2020-333","v":40},{"d":"2020-343","v":31},{"d":"2020-354","v":29},
{"d":"2021-002","v":26},{"d":"2021-013","v":40},{"d":"2021-023","v":46},{"d":"2021-034","v":52},{"d":"2021-043","v":63},{"d":"2021-050","v":75},{"d":"2021-055","v":81},{"d":"2021-062","v":69},{"d":"2021-069","v":63},{"d":"2021-078","v":58},{"d":"2021-087","v":54},{"d":"2021-094","v":46},{"d":"2021-101","v":40},{"d":"2021-108","v":43},{"d":"2021-115","v":52},{"d":"2021-122","v":58},{"d":"2021-129","v":52},{"d":"2021-136","v":46},{"d":"2021-147","v":52},{"d":"2021-154","v":63},{"d":"2021-161","v":58},{"d":"2021-166","v":81},{"d":"2021-170","v":98},{"d":"2021-175","v":84},{"d":"2021-182","v":69},{"d":"2021-193","v":58},{"d":"2021-204","v":52},{"d":"2021-214","v":43},{"d":"2021-225","v":35},{"d":"2021-235","v":29},{"d":"2021-242","v":26},{"d":"2021-249","v":35},{"d":"2021-257","v":38},{"d":"2021-264","v":40},{"d":"2021-271","v":38},{"d":"2021-281","v":40},{"d":"2021-292","v":35},{"d":"2021-299","v":38},{"d":"2021-310","v":31},{"d":"2021-320","v":26},{"d":"2021-331","v":29},{"d":"2021-341","v":26},{"d":"2021-352","v":25},{"d":"2021-364","v":31}
    ], "format": {"parse": {"d": "date:'%Y-%j'"}}},
    "mark": {"type": "line"},
    "encoding": {
      "x": {"field": "d", "type": "temporal", "axis": {"orient": "top", "labels": false, "ticks": false}},
      "y": {"field": "v", "type": "quantitative"},
      "color": {"datum": "SM2RAIN", "type": "nominal"}
    }}
  ]
}
]
}
